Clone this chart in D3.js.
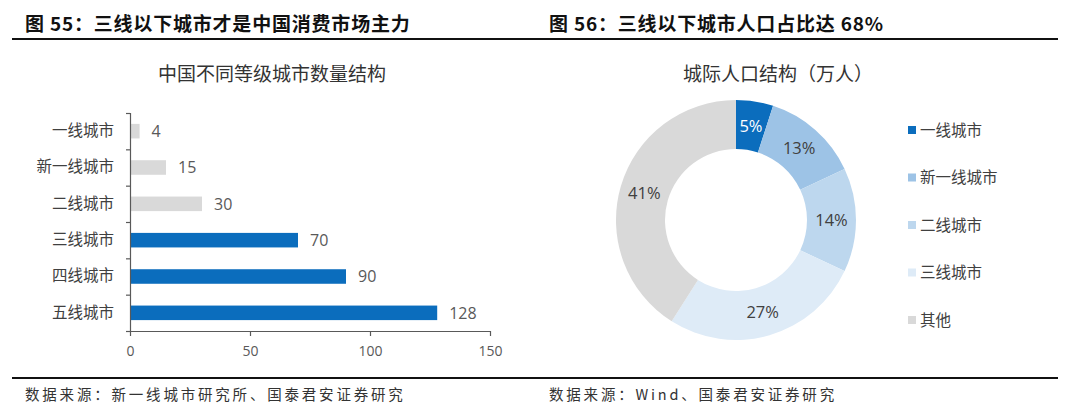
<!DOCTYPE html>
<html>
<head>
<meta charset="utf-8">
<script src="https://cdn.jsdelivr.net/npm/d3@7"></script>
<style>
  body { margin: 0; background: #fff; }
  svg { display: block; }
</style>
</head>
<body>
<svg id="chart" width="1080" height="420"></svg>
<script>
// data
const cityTiers = ['一线城市', '新一线城市', '二线城市', '三线城市', '四线城市', '五线城市'];
const cityCounts = [4, 15, 30, 70, 90, 128];
const highlightTiers = ['三线城市', '四线城市', '五线城市'];
const countTicks = [0, 50, 100, 150];

const popGroups = ['一线城市', '新一线城市', '二线城市', '三线城市', '其他'];
const popShares = [5, 13, 14, 27, 41];
const popColors = ['#0b6dbd', '#9dc3e6', '#bdd7ee', '#deebf7', '#d9d9d9'];

const titles = ['图 55：三线以下城市才是中国消费市场主力', '图 56：三线以下城市人口占比达 68%'];
const subtitles = ['中国不同等级城市数量结构', '城际人口结构（万人）'];
const sources = ['数据来源：新一线城市研究所、国泰君安证券研究', '数据来源：Wind、国泰君安证券研究'];

const sans = '"Open Sans", "Noto Sans CJK SC", sans-serif';
const cjk = '"Noto Sans CJK SC", sans-serif';

const svg = d3.select('#chart');

// header / footer
svg.selectAll('.title')
  .data(titles)
  .enter()
  .append('text')
  .attr('x', (d, i) => i === 0 ? 25 : 549)
  .attr('y', 31)
  .attr('font-family', cjk)
  .attr('font-weight', 700)
  .attr('font-size', 19)
  .attr('letter-spacing', 0.8)
  .attr('fill', '#111')
  .text(d => d);

[39, 378].forEach(yy => {
  svg.append('line')
    .attr('x1', 12).attr('x2', 1058)
    .attr('y1', yy).attr('y2', yy)
    .attr('stroke', '#111')
    .attr('stroke-width', 2);
});

svg.selectAll('.source')
  .data(sources)
  .enter()
  .append('text')
  .attr('x', (d, i) => i === 0 ? 25 : 549)
  .attr('y', 400)
  .attr('font-family', cjk)
  .attr('font-size', 14.5)
  .attr('letter-spacing', 2.8)
  .attr('fill', '#333')
  .text(d => d);

svg.selectAll('.subtitle')
  .data(subtitles)
  .enter()
  .append('text')
  .attr('x', (d, i) => i === 0 ? 272 : 778)
  .attr('y', 81)
  .attr('text-anchor', 'middle')
  .attr('font-family', cjk)
  .attr('font-size', 19)
  .attr('fill', '#333')
  .text(d => d);

// bar chart
const x = d3.scaleLinear().domain([0, 150]).range([130, 490]);
const y = d3.scaleBand()
  .domain(cityTiers)
  .range([113, 331])
  .paddingInner(0.6)
  .paddingOuter(0.3);
const rows = cityTiers.map((c, i) => ({ tier: c, value: cityCounts[i] }));

svg.selectAll('.bar')
  .data(rows)
  .enter()
  .append('rect')
  .attr('x', x(0))
  .attr('y', d => y(d.tier))
  .attr('width', d => x(d.value) - x(0))
  .attr('height', y.bandwidth())
  .attr('fill', d => highlightTiers.includes(d.tier) ? '#0b6dbd' : '#d9d9d9');

svg.selectAll('.val')
  .data(rows)
  .enter()
  .append('text')
  .attr('x', d => x(d.value) + 12)
  .attr('y', d => y(d.tier) + y.bandwidth() / 2)
  .attr('dy', '0.36em')
  .attr('font-family', sans)
  .attr('font-size', 16)
  .attr('fill', '#595959')
  .text(d => d.value);

// category labels
const yAxis = svg.append('g')
  .attr('transform', `translate(${x(0)},0)`)
  .call(d3.axisLeft(y).tickSize(0).tickPadding(16));
yAxis.select('.domain').remove();
yAxis.selectAll('text')
  .attr('font-family', cjk)
  .attr('font-size', 15.5)
  .attr('fill', '#404040');

// band boundary ticks on the y axis
const bounds = d3.scaleLinear().domain([0, cityTiers.length]).range([113, 331]);
const yTicks = svg.append('g')
  .attr('transform', `translate(${x(0)},0)`)
  .call(d3.axisLeft(bounds).ticks(cityTiers.length).tickSize(4).tickSizeOuter(4).tickFormat(''));
yTicks.selectAll('path, line').attr('stroke', '#595959').attr('stroke-width', 1.2);

const xAxis = svg.append('g')
  .attr('transform', `translate(0,331)`)
  .call(d3.axisBottom(x).tickValues(countTicks).tickSize(5).tickSizeOuter(0).tickPadding(10));
xAxis.selectAll('path, line').attr('stroke', '#595959').attr('stroke-width', 1.2);
xAxis.selectAll('text')
  .attr('font-family', sans)
  .attr('font-size', 14)
  .attr('fill', '#595959');

// donut chart
const cx = 736, cy = 220, outerR = 120, innerR = 71;
const pie = d3.pie().sort(null).value(d => d.share);
const slices = pie(popGroups.map((g, i) => ({ group: g, share: popShares[i], color: popColors[i] })));
const arc = d3.arc().innerRadius(innerR).outerRadius(outerR);
const donut = svg.append('g').attr('transform', `translate(${cx},${cy})`);

donut.selectAll('path')
  .data(slices)
  .enter()
  .append('path')
  .attr('d', arc)
  .attr('fill', d => d.data.color);

donut.selectAll('text')
  .data(slices)
  .enter()
  .append('text')
  .attr('transform', d => `translate(${arc.centroid(d)})`)
  .attr('dy', '0.36em')
  .attr('text-anchor', 'middle')
  .attr('font-family', sans)
  .attr('font-size', 16.5)
  .attr('fill', (d, i) => i === 0 ? '#fff' : '#404040')
  .text(d => d.data.share + '%');

// legend
const legendY = d3.scalePoint().domain(popGroups).range([130, 320]);
const legend = svg.selectAll('.legend')
  .data(popGroups)
  .enter()
  .append('g')
  .attr('transform', d => `translate(908,${legendY(d)})`);
legend.append('rect')
  .attr('x', 0).attr('y', -4)
  .attr('width', 8).attr('height', 8)
  .attr('fill', (d, i) => popColors[i]);
legend.append('text')
  .attr('x', 12)
  .attr('dy', '0.36em')
  .attr('font-family', cjk)
  .attr('font-size', 15.5)
  .attr('fill', '#404040')
  .text(d => d);
</script>
</body>
</html>
